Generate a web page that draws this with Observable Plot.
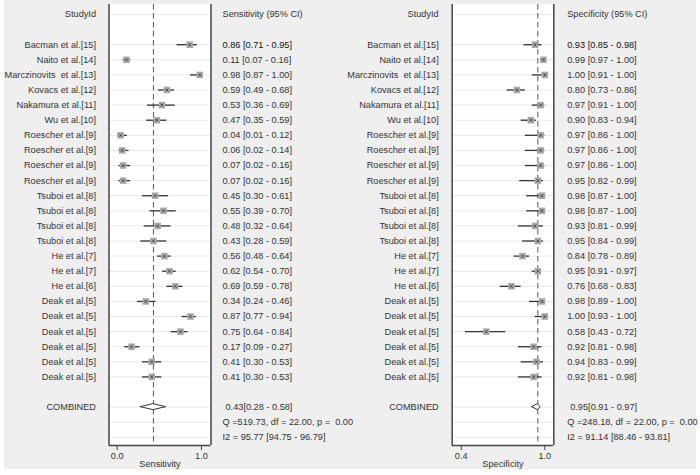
<!DOCTYPE html>
<html><head><meta charset="utf-8">
<script src="https://cdn.jsdelivr.net/npm/d3@7"></script>
<script src="https://cdn.jsdelivr.net/npm/@observablehq/plot@0.6"></script>
<style>
body{margin:0;background:#fff;width:700px;height:475px;position:relative;overflow:hidden}
#bg{position:absolute;left:4px;top:0;width:692px;height:469px;background:#efefef}
.panel{position:absolute;top:0}
svg text{white-space:pre}
</style></head><body>
<div id="bg"></div>
<div id="left" class="panel" style="left:0"></div>
<div id="right" class="panel" style="left:350px"></div>
<script>
const studies = ["Bacman et al.[15]", "Naito et al.[14]", "Marczinovits  et al.[13]", "Kovacs et al.[12]",
  "Nakamura et al.[11]", "Wu et al.[10]", "Roescher et al.[9]", "Roescher et al.[9]", "Roescher et al.[9]",
  "Roescher et al.[9]", "Tsuboi et al.[8]", "Tsuboi et al.[8]", "Tsuboi et al.[8]", "Tsuboi et al.[8]",
  "He et al.[7]", "He et al.[7]", "He et al.[6]", "Deak et al.[5]", "Deak et al.[5]", "Deak et al.[5]",
  "Deak et al.[5]", "Deak et al.[5]", "Deak et al.[5]"];
const sensEst = [0.86,0.11,0.98,0.59,0.53,0.47,0.04,0.06,0.07,0.07,0.45,0.55,0.48,0.43,0.56,0.62,0.69,0.34,0.87,0.75,0.17,0.41,0.41];
const sensLo  = [0.71,0.07,0.87,0.49,0.36,0.35,0.01,0.02,0.02,0.02,0.30,0.39,0.32,0.28,0.48,0.54,0.59,0.24,0.77,0.64,0.09,0.30,0.30];
const sensHi  = [0.95,0.16,1.00,0.68,0.69,0.59,0.12,0.14,0.16,0.16,0.61,0.70,0.64,0.59,0.64,0.70,0.78,0.46,0.94,0.84,0.27,0.53,0.53];
const specEst = [0.93,0.99,1.00,0.80,0.97,0.90,0.97,0.97,0.97,0.95,0.98,0.98,0.93,0.95,0.84,0.95,0.76,0.98,1.00,0.58,0.92,0.94,0.92];
const specLo  = [0.85,0.97,0.91,0.73,0.91,0.83,0.86,0.86,0.86,0.82,0.87,0.87,0.81,0.84,0.78,0.91,0.68,0.89,0.93,0.43,0.81,0.83,0.81];
const specHi  = [0.98,1.00,1.00,0.86,1.00,0.94,1.00,1.00,1.00,0.99,1.00,1.00,0.99,0.99,0.89,0.97,0.83,1.00,1.00,0.72,0.98,0.99,0.98];
const pooledSens = [0.43, 0.28, 0.58];
const pooledSpec = [0.95, 0.91, 0.97];
const sensStats = ["Q =519.73, df = 22.00, p =  0.00", "I2 = 95.77 [94.75 - 96.79]"];
const specStats = ["Q =248.18, df = 22.00, p =  0.00", "I2 = 91.14 [88.46 - 93.81]"];
const studyHeader = "StudyId";
const combinedLabel = "COMBINED";
const valueHeaders = ["Sensitivity (95% CI)", "Specificity (95% CI)"];
const axisLabels = ["Sensitivity", "Specificity"];
const sensTicks = [0, 1];
const specTicks = [0.4, 1.0];

const f2 = d3.format(".2f");
const TEXT = "#333";

function panel(cfg) {
  const rows = studies.map((s, i) => ({label: s, row: i + 2, est: cfg.est[i], lo: cfg.lo[i], hi: cfg.hi[i],
    txt: `${f2(cfg.est[i])} [${f2(cfg.lo[i])} - ${f2(cfg.hi[i])}]`}));
  const cRow = studies.length + 3;
  const p = cfg.pooled;
  const gridRows = [0, ...rows.map(d => d.row), cRow, cRow + 1, cRow + 2];
  const dh = 0.2;
  const diamond = [{x: p[1], y1: cRow, y2: cRow}, {x: p[0], y1: cRow - dh, y2: cRow + dh}, {x: p[2], y1: cRow, y2: cRow}];
  const yTop = -0.662, yBot = 28.54;
  return Plot.plot({
    width: 350, height: 475,
    marginLeft: cfg.ml, marginRight: cfg.mr, marginTop: 4, marginBottom: 30,
    style: {background: "transparent", fontFamily: "'Liberation Sans', Arial, sans-serif", fontSize: "9.2px", color: TEXT, overflow: "visible"},
    x: {domain: cfg.domain, axis: null},
    y: {domain: [yBot, yTop], axis: null},
    marks: [
      Plot.frame({fill: "white", stroke: null}),
      Plot.ruleY(gridRows, {stroke: "#e8e8e8", strokeWidth: 1}),
      Plot.ruleX([p[0]], {stroke: "#555", strokeWidth: 1, strokeDasharray: "5.5,3.5"}),
      Plot.ruleX(cfg.domain, {stroke: "#444", strokeWidth: 1.5}),
      Plot.ruleY([yBot], {stroke: "#444", strokeWidth: 1.5}),
      Plot.axisX(cfg.ticks, {anchor: "bottom", tickSize: 5, tickPadding: 2, tickFormat: ".1f", label: null, fontSize: 9.2, stroke: "#444"}),
      Plot.text([cfg.axisLabel], {frameAnchor: "bottom", dy: 21, fontSize: 9.2, fill: TEXT}),
      Plot.ruleY(rows, {y: "row", x1: "lo", x2: "hi", stroke: "#333", strokeWidth: 1.3}),
      Plot.dot(rows, {x: "est", y: "row", symbol: "square", r: 3.7, fill: "#a9a9a9", stroke: null}),
      Plot.dot(rows, {x: "est", y: "row", symbol: "times", r: 1.4, stroke: "#333", strokeWidth: 0.8}),
      Plot.areaY(diamond, {x: "x", y1: "y1", y2: "y2", fill: "white", stroke: "#333", strokeWidth: 1}),
      Plot.text([studyHeader], {frameAnchor: "left", y: [0], dx: cfg.labelDx, textAnchor: "end", fill: TEXT}),
      Plot.text(rows, {frameAnchor: "left", y: "row", text: "label", dx: cfg.labelDx, textAnchor: "end", fill: TEXT}),
      Plot.text([combinedLabel], {frameAnchor: "left", y: [cRow], dx: cfg.labelDx, textAnchor: "end", fill: TEXT}),
      Plot.text([cfg.header], {frameAnchor: "right", y: [0], dx: cfg.valDx, textAnchor: "start", fill: TEXT}),
      Plot.text(rows.slice(0, 1), {frameAnchor: "right", y: "row", text: "txt", dx: cfg.valDx, textAnchor: "start", fill: "#111"}),
      Plot.text(rows.slice(1), {frameAnchor: "right", y: "row", text: "txt", dx: cfg.valDx, textAnchor: "start", fill: TEXT}),
      Plot.text([`${f2(p[0])}[${f2(p[1])} - ${f2(p[2])}]`], {frameAnchor: "right", y: [cRow], dx: cfg.valDx + 3, textAnchor: "start", fill: TEXT}),
      Plot.text(cfg.stats, {frameAnchor: "right", y: [cRow + 1, cRow + 2], dx: cfg.valDx, textAnchor: "start", fill: TEXT})
    ]
  });
}

document.getElementById("left").append(panel({
  est: sensEst, lo: sensLo, hi: sensHi, pooled: pooledSens, stats: sensStats,
  header: valueHeaders[0], axisLabel: axisLabels[0], ticks: sensTicks,
  domain: [-0.097, 1.113], ml: 108.5, mr: 139.5, labelDx: -13, valDx: 11.5
}));
document.getElementById("right").append(panel({
  est: specEst, lo: specLo, hi: specHi, pooled: pooledSpec, stats: specStats,
  header: valueHeaders[1], axisLabel: axisLabels[1], ticks: specTicks,
  domain: [0.335, 1.0646], ml: 101.7, mr: 146.7, labelDx: -13.5, valDx: 13.4
}));
</script>
</body></html>
